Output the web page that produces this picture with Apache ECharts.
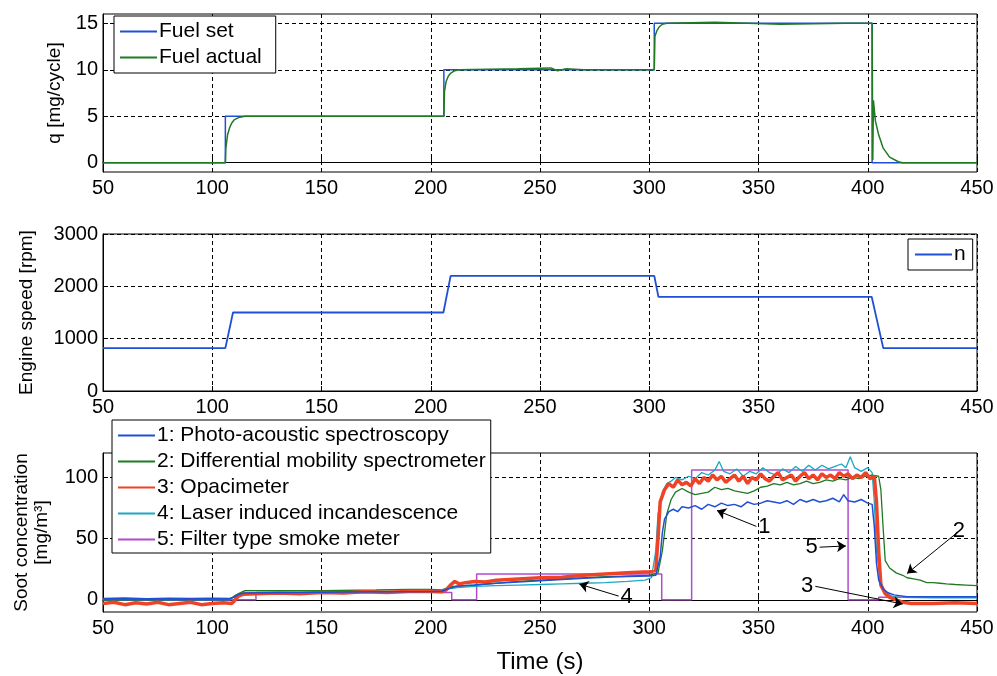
<!doctype html>
<html>
<head>
<meta charset="utf-8">
<title>Fuel, engine speed and soot</title>
<script src="https://cdn.jsdelivr.net/npm/echarts@6/dist/echarts.min.js"></script>
<style>
  html, body { margin: 0; padding: 0; background: #fff; }
  #main { width: 997px; height: 676px; }
</style>
</head>
<body>
<div id="main"></div>
<script>
// ---- panel 1 : fuel quantity [mg/cycle]
var fuelSetT = [50, 106, 206, 302.3, 402, 450];
var fuelSetV = [0, 5, 10, 15, 0, 0];
var fuelActT = [50, 106, 106.2, 107, 108, 109, 110, 112, 115, 206, 206.3, 207, 208, 209, 211, 213, 240, 255, 258, 262, 270, 302.3, 302.6, 303.5, 304.5, 306, 308, 330, 360, 390, 402, 402.3, 402.6, 403.5, 405, 407, 410, 414, 416, 450];
var fuelActV = [0, 0, 1.5, 3, 3.8, 4.3, 4.6, 4.85, 5, 5, 7.7, 8.7, 9.3, 9.6, 9.9, 10, 10.1, 10.2, 9.9, 10.1, 10, 10, 13.6, 14.2, 14.6, 14.9, 15, 15.1, 14.9, 15, 15, 0.3, 6.7, 4.5, 3, 1.6, 0.6, 0.1, 0, 0];

// ---- panel 2 : engine speed [rpm]
var speedT = [50, 106, 109.5, 205.8, 209.1, 302.3, 304.2, 401.8, 407.1, 450];
var speedV = [820, 820, 1500, 1500, 2200, 2200, 1800, 1800, 820, 820];

// ---- panel 3 : soot concentration [mg/m3]
var pasT = [50, 60, 70, 80, 90, 100, 108, 110, 112, 115, 125, 140, 160, 180, 200, 205, 208, 212, 220, 230, 240, 250, 260, 270, 280, 290, 300, 303, 305, 306, 307, 309, 311, 313, 315, 318, 321, 324, 327, 330, 333, 336, 339, 342, 345, 348, 351, 354, 357, 360, 363, 366, 369, 372, 375, 378, 381, 384, 387, 389, 391, 394, 397, 400, 402, 403, 404, 405, 407, 409, 412, 418, 430, 450];
var pasV = [1, 1.5, 0.8, 1.3, 1, 1.2, 1, 2, 4.5, 5.5, 5.8, 6, 6.3, 6.5, 6.8, 7, 9, 11, 12, 13.5, 14.5, 15.5, 16.5, 17.5, 18.5, 19, 19.5, 20, 35, 55, 66, 72, 74, 72, 76, 75, 77, 74, 78, 76, 79, 77, 78, 76, 80, 78, 79, 81, 80, 79, 81, 78, 82, 80, 82, 80, 81, 83, 80, 86, 81, 80, 82, 79, 78, 60, 30, 16, 9, 6, 4, 2.5, 2.5, 2.5];

var dmsT = [50, 108, 112, 115, 125, 150, 175, 190, 200, 205, 210, 220, 240, 260, 280, 300, 304, 306, 308, 310, 312, 315, 318, 321, 324, 327, 330, 333, 336, 339, 342, 345, 348, 351, 354, 357, 360, 363, 366, 369, 372, 375, 378, 381, 384, 387, 390, 393, 396, 399, 402, 405, 406, 407, 408, 410, 413, 416, 418, 421, 424, 427, 430, 433, 436, 440, 445, 450];
var dmsV = [0, 0.5, 5, 7.5, 7.5, 7.5, 8, 8.5, 8.5, 8, 11, 12, 15, 17, 19, 20, 22, 40, 70, 82, 88, 91, 88, 86, 87, 88, 92, 90, 91, 89, 88, 87, 89, 92, 93, 95, 94, 96, 94, 95, 97, 95, 96, 98, 97, 99, 98, 100, 99, 101, 102, 101, 90, 60, 32, 26, 22, 20, 18, 17, 16, 14, 14, 13.5, 13, 12.5, 12, 11.5];

var opaT = [50, 55, 60, 65, 70, 75, 80, 85, 90, 95, 100, 105, 109, 110, 112, 114, 120, 130, 140, 150, 160, 170, 180, 190, 200, 205, 207, 209, 211, 213, 216, 220, 225, 230, 240, 250, 260, 270, 280, 290, 300, 303, 304, 305, 307, 309, 311, 313, 315, 317, 319, 321, 323, 325, 327, 329, 331, 333, 335, 337, 339, 341, 343, 345, 347, 349, 351, 353, 355, 357, 359, 361, 363, 365, 367, 369, 371, 373, 375, 377, 379, 381, 383, 385, 387, 389, 391, 393, 395, 397, 399, 401, 403, 404, 405, 406, 408, 410, 413, 416, 420, 430, 440, 450];
var opaV = [-3, -2, -4, -2.5, -3.5, -2, -4, -3, -2, -4, -3, -2.5, -3, -1, 3, 4.5, 5, 5.5, 5, 6, 5.5, 6.5, 6, 7, 7, 6.5, 8, 12, 15, 13, 14, 15, 14.5, 16, 17, 18, 18.5, 20, 21, 22, 23, 24, 50, 80, 90, 95, 92, 98, 94, 96, 93, 99, 95, 100, 97, 102, 98, 101, 96, 99, 102, 97, 101, 95, 100, 98, 103, 99, 97, 101, 104, 98, 100, 102, 97, 101, 104, 99, 102, 98, 103, 100, 102, 99, 104, 101, 103, 99, 102, 100, 104, 99, 101, 80, 40, 12, 5, 2, 0, -2, -3, -3, -2.5, -3];

var liiT = [50, 108, 111, 115, 130, 160, 190, 205, 208, 212, 220, 230, 240, 250, 260, 270, 280, 290, 298, 301, 303, 304, 306, 308, 310, 312, 315, 318, 321, 324, 327, 330, 332, 334, 337, 340, 343, 346, 349, 352, 355, 358, 361, 364, 367, 370, 373, 376, 379, 382, 385, 388, 390, 392, 394, 397, 400, 402, 403, 404, 406, 408, 411, 415, 430, 450];
var liiV = [0, 0, 4, 6, 6, 6.5, 7, 7.5, 9, 10, 11, 11.5, 12, 12.5, 13, 13.5, 14, 15, 16, 18, 40, 70, 88, 95, 97, 100, 98, 101, 99, 104, 102, 106, 113, 105, 103, 107, 101, 105, 103, 108, 104, 102, 107, 104, 109, 105, 110, 106, 110, 107, 109, 111, 108, 117, 108, 105, 108, 104, 80, 40, 15, 6, 3, 2, 1.5, 1.5];

// filter smoke meter: value held until next time stamp
var fsmT = [50, 120, 209.6, 221, 305.7, 319.4, 391, 405, 450];
var fsmV = [0, 6, 0, 21, 0, 106, 0, 2, 2];

// annotation arrows on panel 3: label, from [t, v], to [t, v]
var noteText = ['1', '2', '3', '4', '5'];
var noteFrom = [[349, 60], [441, 55], [376, 11], [286, 3], [378, 43]];
var noteTo = [[331, 73], [418, 21.5], [416, -3.5], [268, 12.8], [390, 44]];

var xTicks = { min: 50, max: 450, interval: 50 };
var yTicks1 = [0, 5, 10, 15];
var yTicks3 = [0, 50, 100];

var FONT = '"Liberation Sans", Arial, sans-serif';
var C_BLUE = '#1f4fd6', C_GREEN = '#1f7a24', C_RED = '#ee4326', C_CYAN = '#1ea6c6', C_MAG = '#b04ccc';

function pairs(t, v) {
  var out = [];
  for (var i = 0; i < t.length; i++) out.push([t[i], v[i]]);
  return out;
}

function plain(v) { return String(v); }

function xAxisFor(idx, extra) {
  var ax = {
    type: 'value', gridIndex: idx, min: xTicks.min, max: xTicks.max, interval: xTicks.interval,
    axisLine: { show: true, lineStyle: { color: '#000', width: 1 } },
    axisTick: { show: true, inside: true, length: 5, lineStyle: { color: '#000' } },
    axisLabel: { color: '#000', fontSize: 20, fontFamily: FONT, margin: 6, formatter: plain },
    splitLine: { show: true, lineStyle: { color: '#000', type: [4, 3], width: 1 } }
  };
  for (var k in extra) ax[k] = extra[k];
  return ax;
}

function yAxisFor(idx, extra) {
  var ax = {
    type: 'value', gridIndex: idx,
    axisLine: { show: true, lineStyle: { color: '#000', width: 1 } },
    axisTick: { show: true, inside: true, length: 5, lineStyle: { color: '#000' } },
    axisLabel: { color: '#000', fontSize: 20, fontFamily: FONT, margin: 5, formatter: plain },
    splitLine: { show: true, lineStyle: { color: '#000', type: [4, 3], width: 1 } },
    nameLocation: 'middle', nameRotate: 90,
    nameTextStyle: { color: '#000', fontSize: 19, fontFamily: FONT, lineHeight: 20 }
  };
  for (var k in extra) {
    if (typeof extra[k] === 'object' && !Array.isArray(extra[k]) && ax[k]) {
      for (var j in extra[k]) ax[k][j] = extra[k][j];
    } else ax[k] = extra[k];
  }
  return ax;
}

function lineSeries(name, t, v, color, width, xi, extra) {
  var s = {
    name: name, type: 'line', xAxisIndex: xi, yAxisIndex: xi,
    data: pairs(t, v), showSymbol: false, symbol: 'none',
    lineStyle: { color: color, width: width }, itemStyle: { color: color },
    z: 3
  };
  for (var k in extra) s[k] = extra[k];
  return s;
}

var legendBase = {
  orient: 'vertical', icon: 'rect', itemWidth: 37, itemHeight: 2,
  backgroundColor: '#fff', borderColor: '#000', borderWidth: 1, borderRadius: 0,
  itemGap: 5, textStyle: { color: '#000', fontSize: 21, fontFamily: FONT, padding: [0, 0, 0, -3] },
  z: 10
};
function legendFor(extra) {
  var l = {};
  for (var k in legendBase) l[k] = legendBase[k];
  for (var j in extra) l[j] = extra[j];
  return l;
}

var annotLines = [];
for (var i = 0; i < noteText.length; i++) {
  annotLines.push([
    { coord: noteFrom[i], label: { show: true, position: 'start', formatter: noteText[i], color: '#000', fontSize: 22, fontFamily: FONT, distance: 2 } },
    { coord: noteTo[i] }
  ]);
}

var chart = echarts.init(document.getElementById('main'));
chart.setOption({
  animation: false,
  backgroundColor: '#fff',
  grid: [
    { left: 103, top: 14, width: 874, height: 158, show: true, borderColor: '#000', borderWidth: 1, backgroundColor: 'transparent' },
    { left: 103, top: 234, width: 874, height: 157, show: true, borderColor: '#000', borderWidth: 1, backgroundColor: 'transparent' },
    { left: 103, top: 453, width: 874, height: 159, show: true, borderColor: '#000', borderWidth: 1, backgroundColor: 'transparent' }
  ],
  xAxis: [
    xAxisFor(0, {}),
    xAxisFor(1, {}),
    xAxisFor(2, {
      name: 'Time (s)', nameLocation: 'middle', nameGap: 38,
      nameTextStyle: { color: '#000', fontSize: 24, fontFamily: FONT }
    })
  ],
  yAxis: [
    yAxisFor(0, { min: -1, max: 16, name: 'q [mg/cycle]', nameGap: 33,
      axisTick: { customValues: yTicks1 }, axisLabel: { customValues: yTicks1 } }),
    yAxisFor(1, { min: 0, max: 3000, interval: 1000, name: 'Engine speed [rpm]', nameGap: 66 }),
    yAxisFor(2, { min: -10, max: 120, name: 'Soot concentration\n[mg/m\u00b3]', nameGap: 51,
      axisTick: { customValues: yTicks3 }, axisLabel: { customValues: yTicks3 } })
  ],
  legend: [
    legendFor({ left: 114, top: 16, padding: [5, 14, 5, 6], data: ['Fuel set', 'Fuel actual'] }),
    legendFor({ left: 908, top: 239, padding: [5, 7, 5, 7], data: ['n'] }),
    legendFor({ left: 112, top: 420, padding: [5, 5, 3, 6], data: [
      '1: Photo-acoustic spectroscopy', '2: Differential mobility spectrometer',
      '3: Opacimeter', '4: Laser induced incandescence', '5: Filter type smoke meter'] })
  ],
  series: [
    lineSeries('Fuel set', fuelSetT, fuelSetV, C_BLUE, 1.5, 0, { step: 'end' }),
    lineSeries('Fuel actual', fuelActT, fuelActV, C_GREEN, 1.5, 0, {}),
    lineSeries('n', speedT, speedV, C_BLUE, 1.8, 1, {}),
    lineSeries('5: Filter type smoke meter', fsmT, fsmV, C_MAG, 1.5, 2, { step: 'end' }),
    lineSeries('4: Laser induced incandescence', liiT, liiV, C_CYAN, 1.3, 2, {}),
    lineSeries('2: Differential mobility spectrometer', dmsT, dmsV, C_GREEN, 1.3, 2, {}),
    lineSeries('3: Opacimeter', opaT, opaV, C_RED, 3.5, 2, {}),
    lineSeries('1: Photo-acoustic spectroscopy', pasT, pasV, C_BLUE, 1.5, 2, {}),
    {
      name: 'notes', type: 'line', xAxisIndex: 2, yAxisIndex: 2, data: [], z: 5,
      markLine: {
        silent: true, symbol: ['none', 'arrow'], symbolSize: 9,
        lineStyle: { color: '#000', width: 1, type: 'solid' },
        data: annotLines
      }
    }
  ]
});
</script>
</body>
</html>
